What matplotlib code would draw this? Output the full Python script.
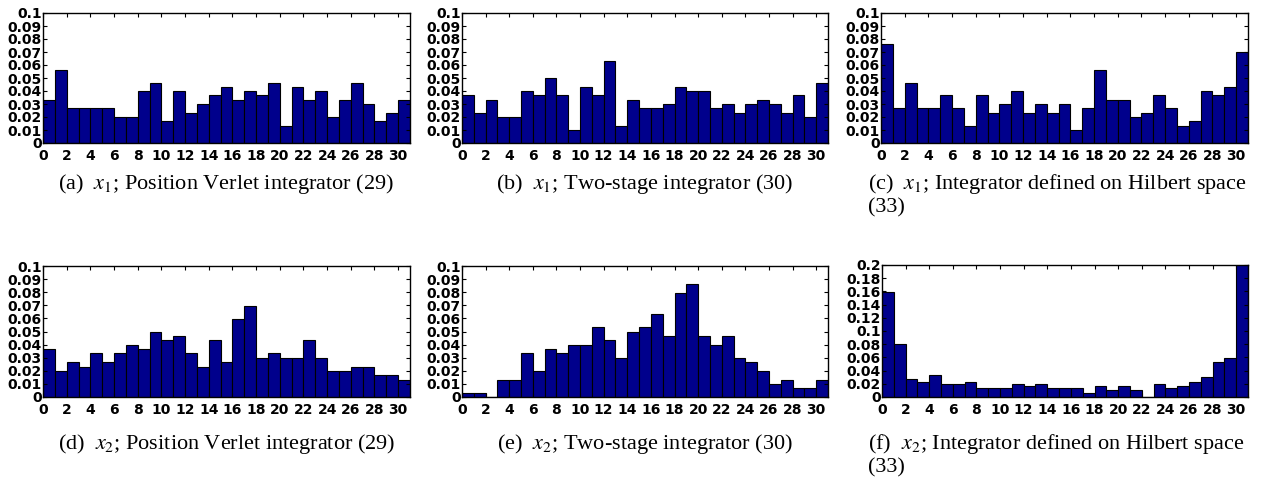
import numpy as np
import matplotlib
matplotlib.use("Agg")
import matplotlib.pyplot as plt
from matplotlib.ticker import FixedLocator, FixedFormatter

# ---- data: histogram counts per bin (bins 0..30), normalised by sample count ----
N_SAMPLES = 301
bins = list(range(31))
counts_a = [10, 17, 8, 8, 8, 8, 6, 6, 12, 14, 5, 12, 7, 9, 11, 13, 10, 12, 11, 14, 4, 13, 10, 12, 6, 10, 14, 9, 5, 7, 10]
counts_b = [11, 7, 10, 6, 6, 12, 11, 15, 11, 3, 13, 11, 19, 4, 10, 8, 8, 9, 13, 12, 12, 8, 9, 7, 9, 10, 9, 7, 11, 6, 14]
counts_c = [23, 8, 14, 8, 8, 11, 8, 4, 11, 7, 9, 12, 7, 9, 7, 9, 3, 8, 17, 10, 10, 6, 7, 11, 8, 4, 5, 12, 11, 13, 21]
counts_d = [11, 6, 8, 7, 10, 8, 10, 12, 11, 15, 13, 14, 10, 7, 13, 8, 18, 21, 9, 10, 9, 9, 13, 9, 6, 6, 7, 7, 5, 5, 4]
counts_e = [1, 1, 0, 4, 4, 10, 6, 11, 10, 12, 12, 16, 13, 9, 15, 16, 19, 14, 24, 26, 14, 12, 14, 9, 8, 6, 3, 4, 2, 2, 4]
counts_f = [48, 24, 8, 7, 10, 6, 6, 7, 4, 4, 4, 6, 5, 6, 4, 4, 4, 2, 5, 3, 5, 3, 0, 6, 4, 5, 7, 9, 16, 18, 61]

xticks = list(range(0, 31, 2))
yticks_small = [0, 0.01, 0.02, 0.03, 0.04, 0.05, 0.06, 0.07, 0.08, 0.09, 0.1]
ylabels_small = ["0", "0.01", "0.02", "0.03", "0.04", "0.05", "0.06", "0.07", "0.08", "0.09", "0.1"]
yticks_big = [0, 0.02, 0.04, 0.06, 0.08, 0.1, 0.12, 0.14, 0.16, 0.18, 0.2]
ylabels_big = ["0", "0.02", "0.04", "0.06", "0.08", "0.1", "0.12", "0.14", "0.16", "0.18", "0.2"]

captions = [
    r"(a)  $x_1$; Position Verlet integrator (29)",
    r"(b)  $x_1$; Two-stage integrator (30)",
    r"(c)  $x_1$; Integrator defined on Hilbert space",
    r"(d)  $x_2$; Position Verlet integrator (29)",
    r"(e)  $x_2$; Two-stage integrator (30)",
    r"(f)  $x_2$; Integrator defined on Hilbert space",
]

W, H = 1269, 484
fig = plt.figure(figsize=(W / 100, H / 100), dpi=100)
plt.rcParams['mathtext.fontset'] = 'stix'

# panel pixel boxes: (left, right, top, bottom)
boxes = [
    (43, 410, 13, 143), (462, 828, 13, 143), (881, 1248, 13, 143),
    (43, 410, 266, 397), (462, 828, 266, 397), (882, 1248, 265, 397),
]
all_counts = [counts_a, counts_b, counts_c, counts_d, counts_e, counts_f]

tick_font = dict(family='DejaVu Sans', weight='bold', size=10)

for i, (box, cnt) in enumerate(zip(boxes, all_counts)):
    l, r, t, b = box
    ax = fig.add_axes([l / W, 1 - b / H, (r - l) / W, (b - t) / H])
    vals = np.array(cnt) / N_SAMPLES
    ax.bar(bins, vals, width=1.0, align='edge', color='#00008C',
           edgecolor='black', linewidth=0.8)
    ax.set_xlim(0, 31)
    if i == 5:
        ax.set_ylim(0, 0.2)
        ax.yaxis.set_major_locator(FixedLocator(yticks_big))
        ax.yaxis.set_major_formatter(FixedFormatter(ylabels_big))
    else:
        ax.set_ylim(0, 0.1)
        ax.yaxis.set_major_locator(FixedLocator(yticks_small))
        ax.yaxis.set_major_formatter(FixedFormatter(ylabels_small))
    ax.set_xticks(xticks)
    ax.set_xticklabels([str(v) for v in xticks])
    ax.tick_params(direction='in', length=3, width=0.8, top=True, right=True,
                   pad=1.0)
    ax.tick_params(axis='x', pad=4.5)
    for lab in ax.get_xticklabels() + ax.get_yticklabels():
        lab.set_fontfamily(tick_font['family'])
        lab.set_fontweight(tick_font['weight'])
        lab.set_fontsize(tick_font['size'])
    for sp in ax.spines.values():
        sp.set_linewidth(1.0)
        sp.set_color('black')

cap_font = dict(family='Liberation Serif', size=16)
# captions
cap_y = [184, 184, 184, 444, 444, 444]
for i, (box, cap) in enumerate(zip(boxes, captions)):
    l, r, t, b = box
    y = 1 - cap_y[i] / H
    if i in (2, 5):
        fig.text(868 / W, y, cap, ha='left', va='center', **cap_font)
        fig.text(868 / W, y - 24 / H, "(33)", ha='left', va='center', **cap_font)
    else:
        fig.text((l + r) / 2 / W, y, cap, ha='center', va='center', **cap_font)

fig.savefig("out.png", dpi=100)
